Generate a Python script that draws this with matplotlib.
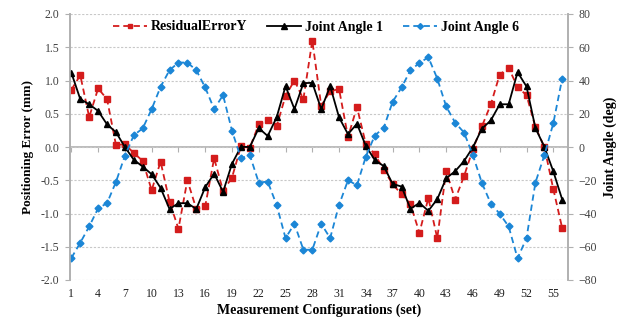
import numpy as np
import matplotlib.pyplot as plt
from matplotlib.ticker import FormatStrFormatter, MultipleLocator

# Данные
config = np.arange(1, 57)

residual_y = [0.86, 1.08, 0.45, 0.88, 0.72, 0.03, 0.04, -0.09, -0.21, -0.65,
              -0.22, -0.82, -1.23, -0.50, -0.93, -0.89, -0.17, -0.66, -0.46, 0.01,
              -0.01, 0.34, 0.40, 0.31, 0.77, 1.00, 0.72, 1.60, 0.62, 0.84,
              0.87, 0.15, 0.60, 0.045, -0.11, -0.34, -0.56, -0.71, -0.86, -1.29,
              -0.77, -1.37, -0.36, -0.79, -0.44, -0.03, 0.31, 0.64, 1.09, 1.19,
              0.90, 0.78, 0.30, 0.0, -0.63, -1.22]

joint_angle_1 = [44.7, 28.8, 25.7, 21.7, 13.6, 8.9, 0.0, -7.7, -11.8, -16.4,
                 -24.6, -37.3, -33.8, -33.8, -37.3, -24.2, -16.0, -27.0, -10.1, 0.1,
                 0.0, 11.4, 6.6, 17.8, 36.6, 22.8, 38.4, 38.6, 22.8, 36.6,
                 17.8, 7.7, 14.0, 0.6, -7.8, -11.5, -22.2, -23.8, -37.2, -33.6,
                 -38.4, -31.4, -18.8, -14.6, -8.5, -0.1, 11.0, 16.0, 25.7, 25.7,
                 45.0, 36.4, 11.4, 0.1, -14.6, -31.6]

joint_angle_6 = [-66.8, -57.6, -47.8, -36.9, -33.8, -21.0, -5.3, 7.1, 11.2, 22.8,
                 36.2, 46.2, 50.8, 50.8, 46.2, 35.8, 22.8, 31.2, 9.8, -6.7,
                 -4.9, -21.4, -20.8, -34.8, -54.8, -46.2, -61.8, -61.8, -46.2, -54.8,
                 -34.8, -20.0, -23.0, -5.8, 6.9, 11.5, 27.2, 35.8, 46.2, 50.5,
                 54.0, 41.2, 24.4, 14.7, 8.7, -5.0, -21.6, -34.0, -40.2, -47.8,
                 -67.0, -54.8, -21.4, -5.0, 14.2, 41.2]

x_ticks = np.arange(1, 56, 3)

plt.rcParams['font.family'] = ['Liberation Serif', 'DejaVu Serif']

grey = '#b0b0b0'
red = '#d41c1c'
blue = '#1b86d6'

fig = plt.figure(figsize=(6.36, 3.2), dpi=100)
ax = fig.add_axes([70 / 636, 1 - 280 / 320, 498 / 636, 266 / 320])
ax2 = ax.twinx()

# Левая ось: ошибка позиционирования
l1, = ax.plot(config, residual_y, color=red, lw=1.3, dashes=(3.5, 2.2),
              marker='s', ms=4, mec=red, mfc=red, label='ResidualErrorY')
ax.set_ylim(-2, 2)
ax.set_xlim(0.85, 56.65)
ax.yaxis.set_major_locator(MultipleLocator(0.5))
ax.yaxis.set_major_formatter(FormatStrFormatter('%.1f'))
ax.grid(axis='y', color='#c8c8c8', ls=(0, (2, 1.5)), lw=0.8)
ax.set_axisbelow(True)

# Правая ось: углы сочленений
l2, = ax2.plot(config, joint_angle_1, color='black', lw=1.3,
               marker='^', ms=4.5, label='Joint Angle 1')
l3, = ax2.plot(config, joint_angle_6, color=blue, lw=1.3, dashes=(3.5, 2.2),
               marker='D', ms=3.5, mec=blue, mfc=blue, label='Joint Angle 6')
ax2.set_ylim(-80, 80)
ax2.yaxis.set_major_locator(MultipleLocator(20))

for a in (ax, ax2):
    for s in ('top', 'bottom'):
        a.spines[s].set_visible(False)
    a.spines['left'].set_color(grey)
    a.spines['right'].set_color(grey)
    a.spines['left'].set_linewidth(1.2)
    a.spines['right'].set_linewidth(1.2)
    a.tick_params(axis='y', colors='#404040', labelsize=8.5, length=3.5,
                  width=0.8, pad=4)
    a.tick_params(axis='y', color=grey)

# Нижние подписи без засечек
ax.set_xticks(x_ticks)
ax.tick_params(axis='x', length=0, labelsize=8.5, labelcolor='#202020', pad=6)

# Горизонтальная ось на нуле с засечками вниз
zero = ax.secondary_xaxis(0.5)
zero.set_alignment('bottom')
zero.set_xticks(x_ticks)
zero.set_xticklabels([])
for s in ('top', 'bottom'):
    zero.spines[s].set_color(grey)
    zero.spines[s].set_linewidth(1.2)
zero.tick_params(axis='x', length=3.5, color=grey, width=0.8, direction='out')

ax.set_ylabel('Positioning Error (mm)', fontsize=9.5, fontweight='bold', labelpad=5)
ax2.set_ylabel('Joint Angle (deg)', fontsize=10, fontweight='bold', labelpad=5)
ax.set_xlabel('Measurement Configurations (set)', fontsize=10, fontweight='bold',
              labelpad=2)

leg = ax.legend(handles=[l1, l2, l3], loc='center left', ncol=3, frameon=False,
                bbox_to_anchor=(43 / 498, 1 - 13 / 266), borderaxespad=0,
                borderpad=0, handlelength=2.45, columnspacing=1.4,
                handletextpad=0.3, markerscale=0.85,
                prop={'weight': 'bold', 'size': 10})

fig.savefig('out.png', dpi=100)
